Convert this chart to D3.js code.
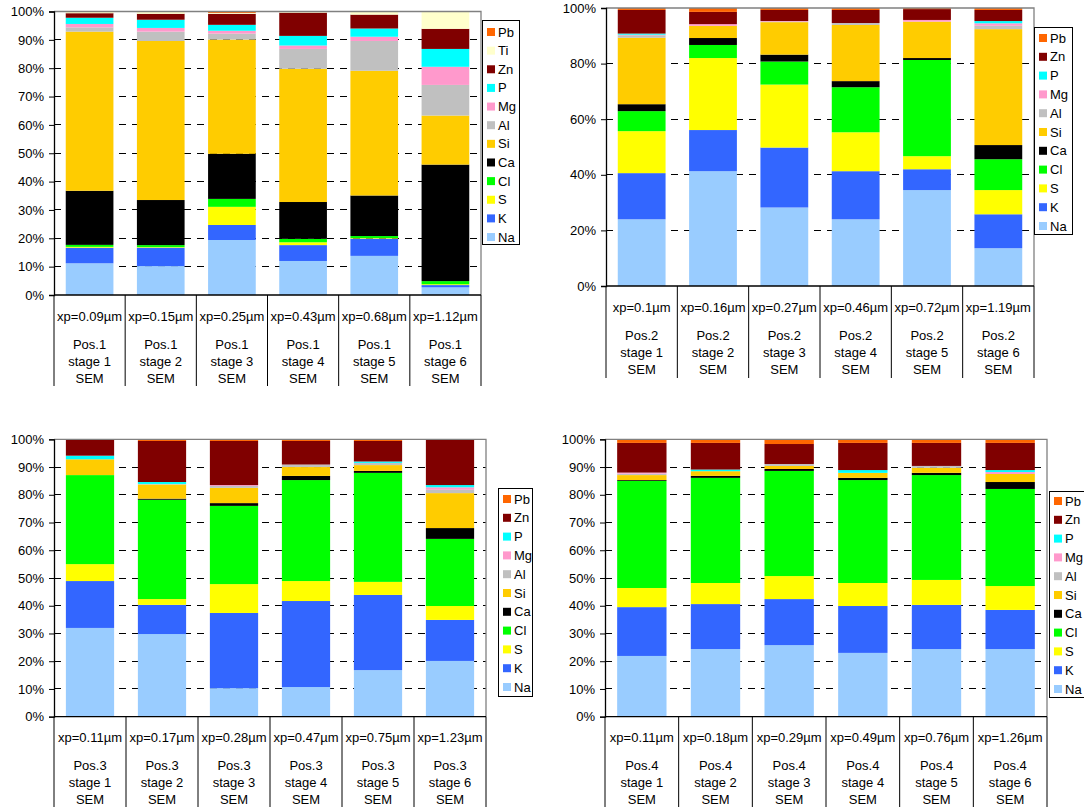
<!DOCTYPE html>
<html><head><meta charset="utf-8">
<script src="https://cdn.jsdelivr.net/npm/d3@7"></script>
<style>body{margin:0;background:#fff}svg{display:block;font-family:"Liberation Sans",Arial,sans-serif}</style>
</head><body><svg id="c" width="1084" height="807"></svg>
<script>
// ---------------- DATA ----------------
const elementsA = ["Na","K","S","Cl","Ca","Si","Al","Mg","P","Zn","Ti","Pb"];
const elementsB = ["Na","K","S","Cl","Ca","Si","Al","Mg","P","Zn","Pb"];
const colors = {Na:"#99CCFF",K:"#3366FF",S:"#FFFF00",Cl:"#00FF00",Ca:"#000000",Si:"#FFCC00",Al:"#C0C0C0",Mg:"#FF99CC",P:"#00FFFF",Zn:"#800000",Ti:"#FFFFCC",Pb:"#FF6600"};

const xp1 = ["xp=0.09µm","xp=0.15µm","xp=0.25µm","xp=0.43µm","xp=0.68µm","xp=1.12µm"];
const xp2 = ["xp=0.1µm","xp=0.16µm","xp=0.27µm","xp=0.46µm","xp=0.72µm","xp=1.19µm"];
const xp3 = ["xp=0.11µm","xp=0.17µm","xp=0.28µm","xp=0.47µm","xp=0.75µm","xp=1.23µm"];
const xp4 = ["xp=0.11µm","xp=0.18µm","xp=0.29µm","xp=0.49µm","xp=0.76µm","xp=1.26µm"];
const stages = ["stage 1","stage 2","stage 3","stage 4","stage 5","stage 6"];

// values in % per element (rows follow the element list), columns = stages 1..6
const pos1Values = [
  [11.2,10.2,19.4,12.0,13.8,2.7],   // Na
  [5.5,6.5,5.3,5.6,6.1,0.8],        // K
  [0.3,0.2,6.4,1.0,0.2,0.3],        // S
  [0.7,0.7,2.8,1.2,0.7,1.1],        // Cl
  [19.1,15.9,15.9,13.0,14.3,41.1],  // Ca
  [56.2,56.1,40.3,47.0,44.0,17.3],  // Si
  [1.5,3.3,2.1,7.0,10.5,10.8],      // Al
  [1.2,1.3,1.0,1.2,1.5,6.4],        // Mg
  [2.2,2.9,2.1,3.4,2.9,6.3],        // P
  [1.6,2.1,3.9,8.2,4.9,7.1],        // Zn
  [0.5,0.8,0.3,0.3,1.1,6.1],        // Ti
  [0.1,0,0.5,0.1,0,0]               // Pb
];
const pos2Values = [
  [24.0,41.3,28.3,24.0,34.5,13.6],
  [16.6,14.8,21.6,17.3,7.5,12.2],
  [15.1,25.9,22.7,14.0,4.7,8.7],
  [7.2,4.7,8.3,16.2,34.6,11.1],
  [2.5,2.5,2.5,2.2,0.7,5.1],
  [23.9,4.4,11.7,20.2,13.1,41.7],
  [0.9,0,0.2,0.7,0,1.2],
  [0.2,0.6,0.2,0,0.6,0.9],
  [0.4,0,0,0,0,0.8],
  [8.5,4.4,4.0,4.7,3.9,4.0],
  [0.7,1.4,0.7,0.7,0.4,0.7]
];
const pos3Values = [
  [32.0,29.8,10.3,10.7,16.8,20.1],
  [16.9,10.5,27.1,31.0,27.1,14.8],
  [6.1,2.1,10.4,7.2,4.7,5.0],
  [32.1,35.8,28.2,36.4,39.3,24.2],
  [0,0.4,1.0,1.5,0.7,3.9],
  [5.7,5.1,5.5,3.2,2.1,12.6],
  [0,0.2,0.7,0.9,0.8,1.2],
  [0,0,0.3,0,0,0.9],
  [1.3,0.7,0,0,0.5,0.8],
  [5.7,14.8,15.9,8.5,7.4,16.3],
  [0.2,0.6,0.6,0.6,0.6,0.2]
];
const pos4Values = [
  [21.9,24.4,25.8,23.0,24.4,24.4],
  [17.6,16.2,16.6,16.9,15.9,14.1],
  [6.9,7.6,8.3,8.3,9.0,8.6],
  [38.6,37.9,37.9,37.1,37.8,35.0],
  [0.3,0.7,0.7,0.8,0.8,2.5],
  [1.8,1.7,1.1,1.8,1.8,2.9],
  [0.5,0,0.7,0,0.7,0],
  [0.4,0,0,0,0,0.7],
  [0,0.6,0,1.0,0,0.7],
  [10.7,9.6,7.2,9.8,8.3,9.8],
  [1.3,1.3,1.7,1.3,1.3,1.3]
];
const ticks10 = [0,0.1,0.2,0.3,0.4,0.5,0.6,0.7,0.8,0.9,1];
const ticks20 = [0,0.2,0.4,0.6,0.8,1];

// ---------------- LAYOUT ----------------
const panels = [
  {pos:"Pos.1", els:elementsA, vals:pos1Values, xp:xp1, ticks:ticks10,
   l:54, r:481, t:11.5, b:295, sepB:386, leg:{x:482,y:20,w:37,h:224,first:32,step:18.64}},
  {pos:"Pos.2", els:elementsB, vals:pos2Values, xp:xp2, ticks:ticks20,
   l:606, r:1034, t:8, b:286, sepB:378, leg:{x:1034,y:27,w:38,h:207,first:38,step:18.8}},
  {pos:"Pos.3", els:elementsB, vals:pos3Values, xp:xp3, ticks:ticks10,
   l:54, r:486, t:439.3, b:716.7, sepB:807, leg:{x:498,y:488,w:34,h:208,first:499,step:18.8}},
  {pos:"Pos.4", els:elementsB, vals:pos4Values, xp:xp4, ticks:ticks10,
   l:605, r:1047, t:439.3, b:716.7, sepB:807, leg:{x:1049,y:491,w:40,h:206,first:501,step:18.8}}
];

const svg = d3.select("#c");
svg.append("rect").attr("width",1084).attr("height",807).attr("fill","#fff");

panels.forEach(p => {
  const g = svg.append("g");
  const rows = stages.map((s,i) => {
    const o = {stage:s};
    p.els.forEach((e,k) => o[e] = p.vals[k][i]);
    return o;
  });
  const x = d3.scaleBand().domain(stages).range([p.l,p.r]).paddingInner(0.33).paddingOuter(0.165);
  const y = d3.scaleLinear().domain([0,1]).range([p.b,p.t]);
  const series = d3.stack().keys(p.els).offset(d3.stackOffsetExpand)(rows);

  // gridlines
  g.selectAll(".grid").data(p.ticks.filter(t=>t>0 && t<1)).join("line")
    .attr("x1",p.l).attr("x2",p.r).attr("y1",d=>y(d)).attr("y2",d=>y(d))
    .attr("stroke","#000").attr("stroke-width",1).attr("stroke-dasharray","7,6").attr("shape-rendering","crispEdges");

  // bars
  g.selectAll(".s").data(series).join("g").attr("fill",d=>colors[d.key])
    .selectAll("rect").data(d=>d).join("rect")
    .attr("x",d=>x(d.data.stage)).attr("width",x.bandwidth())
    .attr("y",d=>y(d[1])).attr("height",d=>Math.max(0,y(d[0])-y(d[1])));

  // plot border top/right
  g.append("path").attr("d",`M${p.l},${y(1)}H${p.r}V${p.b}`).attr("fill","none")
    .attr("stroke","#808080").attr("stroke-width",1.3);

  // y axis
  const ya = d3.axisLeft(y).tickValues(p.ticks).tickFormat(d3.format(".0%")).tickSize(5).tickPadding(5);
  const yg = g.append("g").attr("transform",`translate(${p.l},0)`).call(ya);
  yg.select(".domain").attr("stroke","#000").attr("stroke-width",1.3);
  yg.selectAll(".tick line").attr("stroke","#000");
  yg.selectAll("text").attr("font-size",13).attr("fill","#000").attr("font-family","'Liberation Sans',Arial,sans-serif");

  // x baseline
  g.append("line").attr("x1",p.l).attr("x2",p.r).attr("y1",p.b).attr("y2",p.b).attr("stroke","#000").attr("stroke-width",1.3);

  // category separators
  const step = x.step();
  const bounds = d3.range(stages.length+1).map(i => p.l + i*step);
  g.selectAll(".sep").data(bounds).join("line")
    .attr("x1",d=>d).attr("x2",d=>d).attr("y1",p.b).attr("y2",p.sepB)
    .attr("stroke","#000").attr("stroke-width",1);

  // category labels
  const lab = g.append("g").attr("font-size",13).attr("fill","#000").attr("text-anchor","middle");
  stages.forEach((s,i) => {
    const cx = x(s) + x.bandwidth()/2;
    [[p.xp[i],21],[p.pos,49],[s,66],["SEM",83]].forEach(([t,dy]) => {
      lab.append("text").attr("x",cx).attr("y",p.b+dy+4.5).text(t);
    });
  });

  // legend
  const L = p.leg;
  const lg = g.append("g");
  lg.append("rect").attr("x",L.x+0.5).attr("y",L.y+0.5).attr("width",L.w).attr("height",L.h)
    .attr("fill","#fff").attr("stroke","#000").attr("stroke-width",1);
  const legEls = p.els.slice().reverse();
  legEls.forEach((e,i) => {
    const cy = L.first + i*L.step;
    lg.append("rect").attr("x",L.x+5).attr("y",cy-4).attr("width",8).attr("height",8).attr("fill",colors[e]);
    lg.append("text").attr("x",L.x+16).attr("y",cy+4.5).attr("font-size",13).attr("fill","#000").text(e);
  });
});
</script></body></html>
